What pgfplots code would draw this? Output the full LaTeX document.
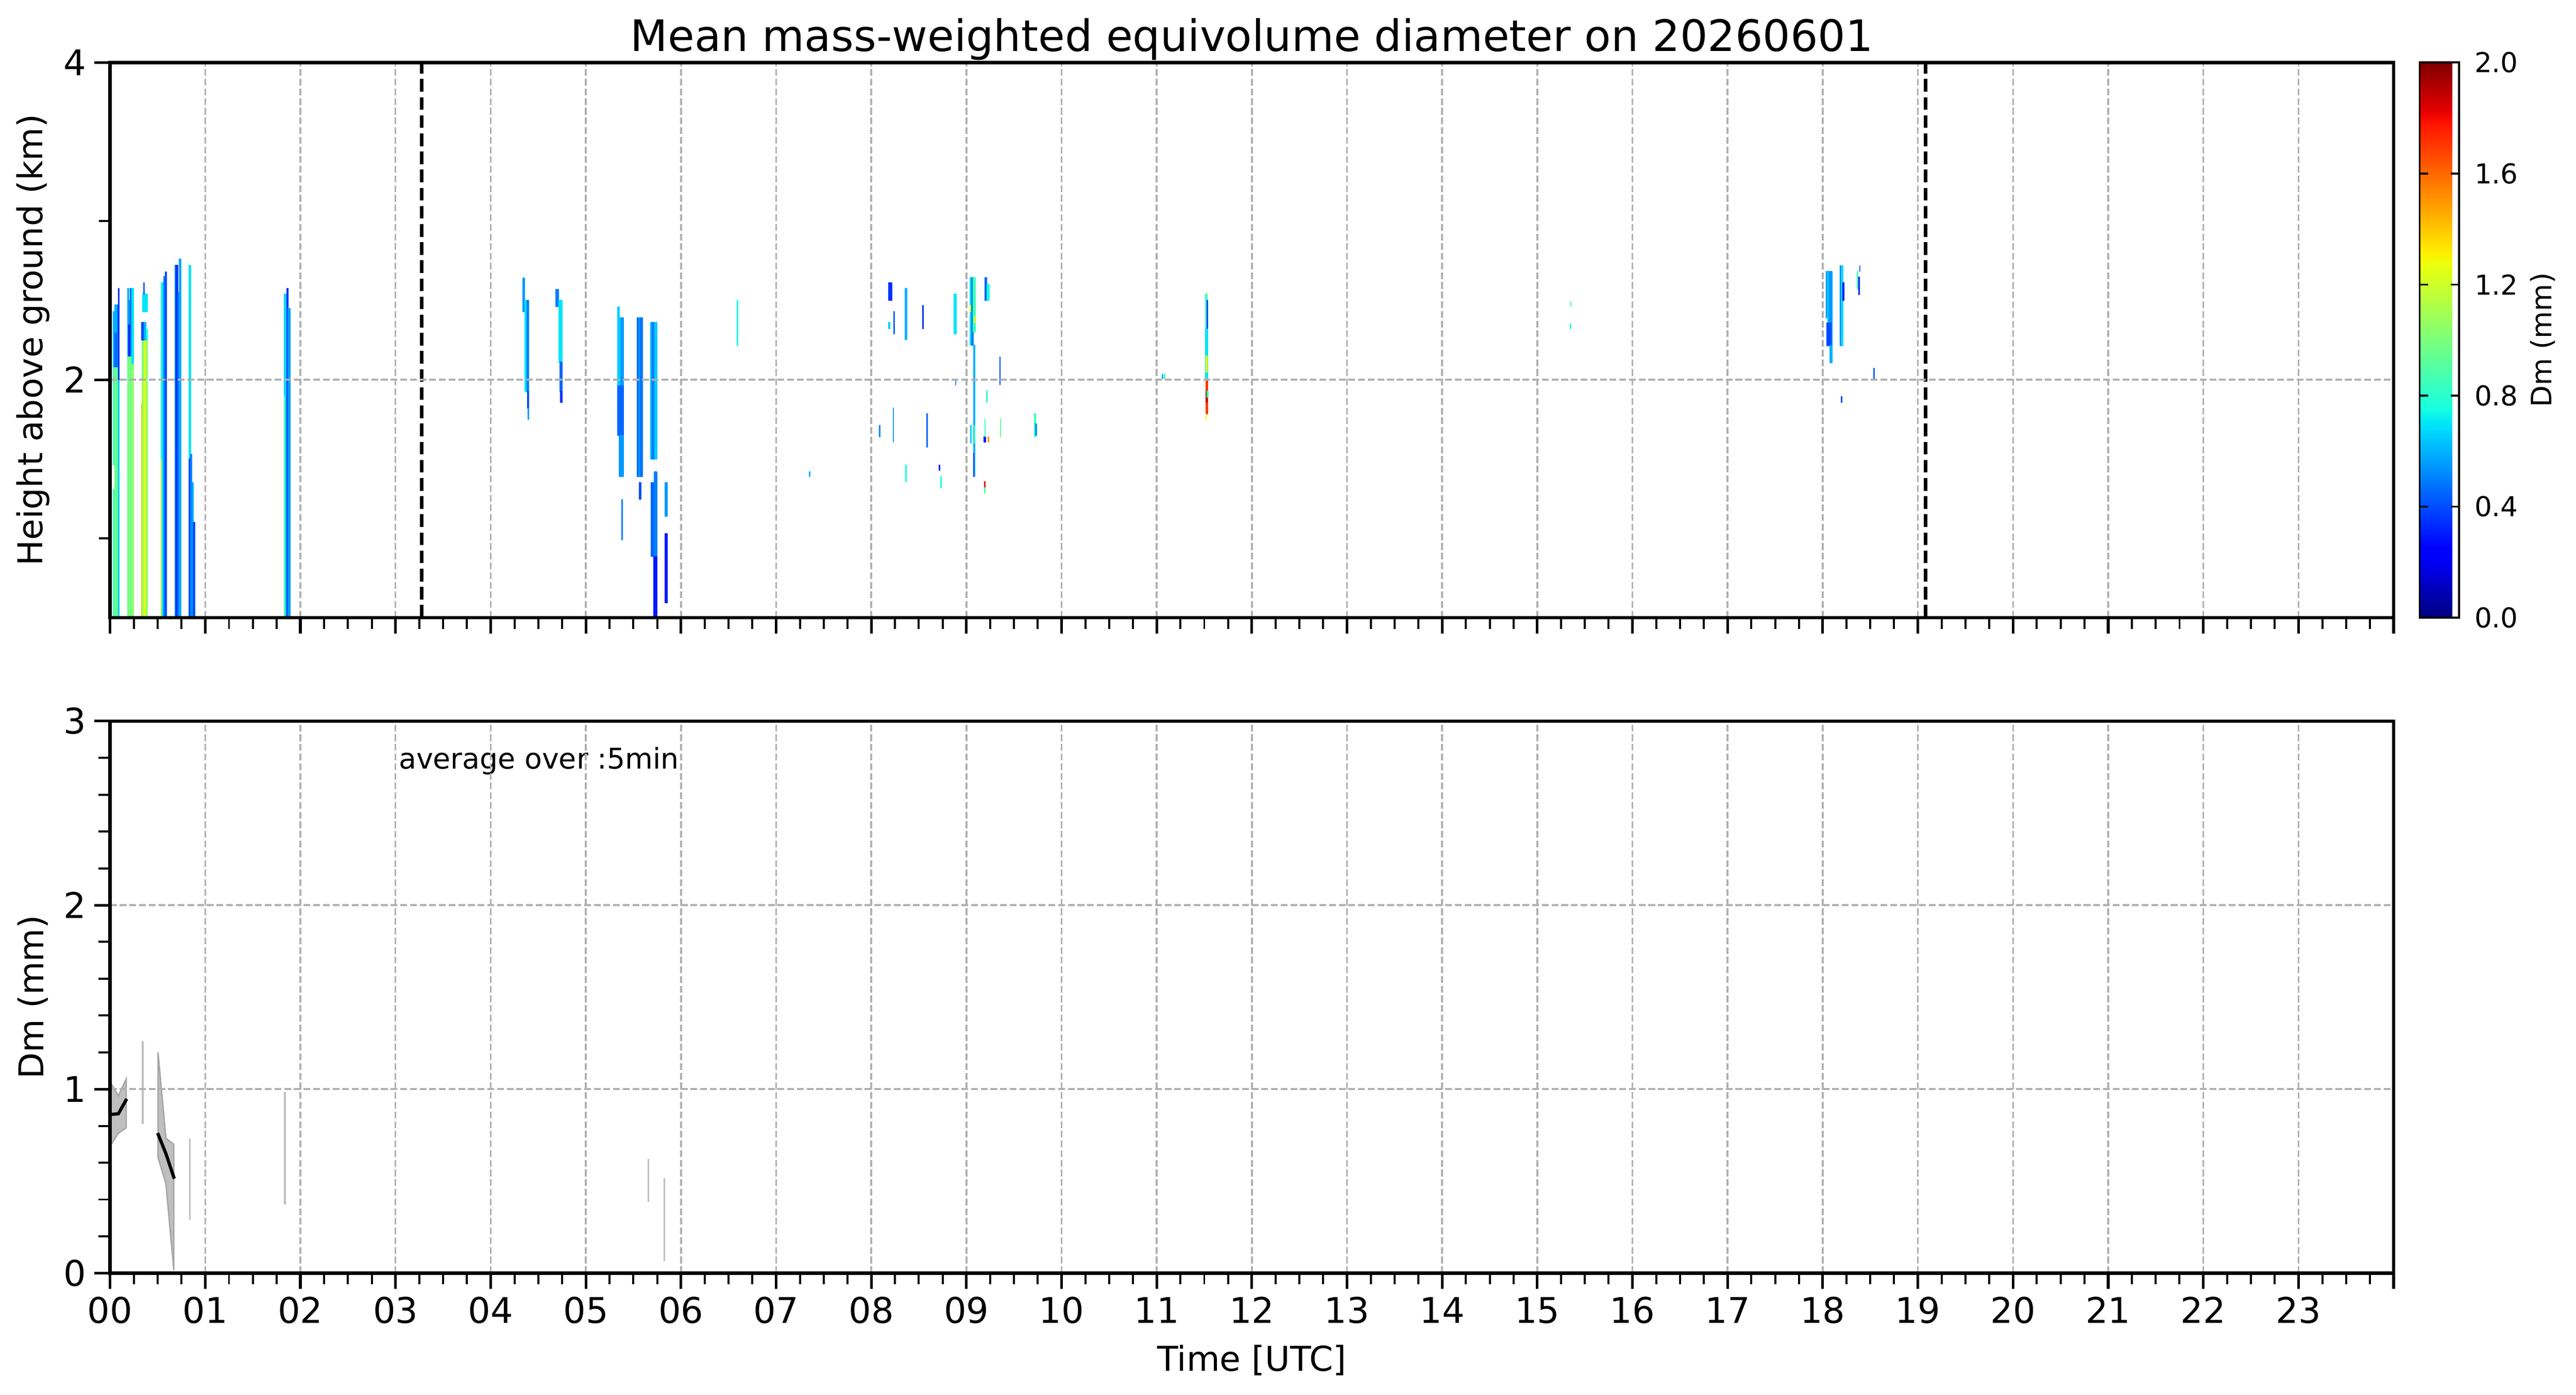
\documentclass[border=0pt]{standalone}
\usepackage{fontspec}
\setmainfont{DejaVu Sans}
\usepackage{pgfplots}
\usepgfplotslibrary{patchplots}
\pgfplotsset{compat=1.18}
\pgfplotsset{
  colormap={mpljet}{rgb(0pt)=(0,0,0.5) rgb(110pt)=(0,0,1) rgb(125pt)=(0,0,1) rgb(340pt)=(0,0.86,1) rgb(350pt)=(0,0.9,0.968) rgb(375pt)=(0.081,1,0.887) rgb(640pt)=(0.935,1,0.032) rgb(650pt)=(0.968,0.963,0) rgb(660pt)=(1,0.926,0) rgb(890pt)=(1,0.074,0) rgb(910pt)=(0.909,0,0) rgb(1000pt)=(0.5,0,0)},
  myax/.style={
    scale only axis, width=1000.8pt,
    xmin=0, xmax=24,
    xtick={0,...,24}, minor x tick num=3,
    tick align=outside, xtick pos=left, ytick pos=left,
    major tick length=7pt, minor tick length=5pt,
    major tick style={black, line width=1.15pt},
    minor tick style={black, line width=0.9pt},
    axis line style={line width=1.5pt},
    grid=major,
    major grid style={dash pattern=on 2.96pt off 1.28pt, line width=0.8pt, color=black!31},
    axis on top,
    ticklabel style={font=\fontsize{15.5}{15.5}\selectfont},
    /pgf/number format/assume math mode=true,
    label style={font=\fontsize{15}{15}\selectfont},
    every axis y label/.style={at={(axis description cs:-0.0338,0.5)}, anchor=center, rotate=90, font=\fontsize{15}{15}\selectfont},
  },
}
\begin{document}
\begin{tikzpicture}
\useasboundingbox (0pt,0pt) rectangle (1128.96pt,-611.28pt);
% ---------------- top panel ----------------
\begin{axis}[myax,
  at={(48.24pt,-27.36pt)}, anchor=north west, height=243.36pt,
  ymin=0.5, ymax=4, ytick={2,4}, minor ytick={1,3},
  xticklabels={},
  ylabel={Height above ground (km)},
  title={Mean mass-weighted equivolume diameter on 20260601},
  title style={at={(axis description cs:0.5,1)}, anchor=base, yshift=-1pt, font=\fontsize{19}{19}\selectfont},
  colormap name=mpljet, point meta min=0, point meta max=2,
  colorbar,
  colorbar style={
    at={(parent axis.north east)}, anchor=north west, xshift=2.9pt,
    scale only axis, width=17.28pt, height=243.36pt,
    ytick={0,0.4,0.8,1.2,1.6,2},
    yticklabel style={xshift=3.2pt, font=\fontsize{12}{12}\selectfont, /pgf/number format/.cd, fixed, fixed zerofill, precision=1},
    /pgf/number format/assume math mode=true,
    ylabel={Dm (mm)},
    every axis y label/.style={at={(axis description cs:3.125,0.5)}, anchor=center, rotate=90, font=\fontsize{12.3}{12.3}\selectfont},
    major tick length=3.6pt, major tick style={line width=0.8pt, black},
    axis line style={line width=0.8pt},
  },
]
\addplot[patch, patch type=rectangle, shader=flat, point meta=explicit] table[row sep=\\, meta index=2] {
x y c\\
0.034 0.5 0.85\\ 0.050 0.5 0.85\\ 0.050 1.31 0.85\\ 0.034 1.31 0.85\\
0.034 1.46 0.85\\ 0.050 1.46 0.85\\ 0.050 2.08 0.85\\ 0.034 2.08 0.85\\
0.034 2.08 0.6\\ 0.050 2.08 0.6\\ 0.050 2.43 0.6\\ 0.034 2.43 0.6\\
0.050 0.5 0.95\\ 0.075 0.5 0.95\\ 0.075 2.08 0.95\\ 0.050 2.08 0.95\\
0.050 2.08 0.45\\ 0.075 2.08 0.45\\ 0.075 2.30 0.45\\ 0.050 2.30 0.45\\
0.050 2.30 0.6\\ 0.075 2.30 0.6\\ 0.075 2.47 0.6\\ 0.050 2.47 0.6\\
0.075 0.5 0.9\\ 0.090 0.5 0.9\\ 0.090 2.08 0.9\\ 0.075 2.08 0.9\\
0.075 2.08 0.5\\ 0.090 2.08 0.5\\ 0.090 2.47 0.5\\ 0.075 2.47 0.5\\
0.090 0.5 0.65\\ 0.096 0.5 0.65\\ 0.096 2.00 0.65\\ 0.090 2.00 0.65\\
0.090 2.00 0.35\\ 0.096 2.00 0.35\\ 0.096 2.575 0.35\\ 0.090 2.575 0.35\\
0.183 0.5 0.95\\ 0.198 0.5 0.95\\ 0.198 2.15 0.95\\ 0.183 2.15 0.95\\
0.183 2.15 0.6\\ 0.198 2.15 0.6\\ 0.198 2.575 0.6\\ 0.183 2.575 0.6\\
0.198 0.5 1.0\\ 0.215 0.5 1.0\\ 0.215 2.15 1.0\\ 0.198 2.15 1.0\\
0.198 2.15 0.3\\ 0.215 2.15 0.3\\ 0.215 2.35 0.3\\ 0.198 2.35 0.3\\
0.198 2.35 0.55\\ 0.215 2.35 0.55\\ 0.215 2.50 0.55\\ 0.198 2.50 0.55\\
0.215 0.5 0.95\\ 0.230 0.5 0.95\\ 0.230 2.15 0.95\\ 0.215 2.15 0.95\\
0.215 2.15 0.45\\ 0.230 2.15 0.45\\ 0.230 2.575 0.45\\ 0.215 2.575 0.45\\
0.230 0.5 1.05\\ 0.245 0.5 1.05\\ 0.245 2.10 1.05\\ 0.230 2.10 1.05\\
0.230 2.10 0.7\\ 0.245 2.10 0.7\\ 0.245 2.575 0.7\\ 0.230 2.575 0.7\\
0.332 0.5 1.45\\ 0.338 0.5 1.45\\ 0.338 1.85 1.45\\ 0.332 1.85 1.45\\
0.338 0.5 1.1\\ 0.360 0.5 1.1\\ 0.360 2.00 1.1\\ 0.338 2.00 1.1\\
0.338 2.00 1.0\\ 0.360 2.00 1.0\\ 0.360 2.25 1.0\\ 0.338 2.25 1.0\\
0.332 2.25 0.4\\ 0.360 2.25 0.4\\ 0.360 2.36 0.4\\ 0.332 2.36 0.4\\
0.360 0.5 1.25\\ 0.378 0.5 1.25\\ 0.378 2.25 1.25\\ 0.360 2.25 1.25\\
0.360 2.25 0.6\\ 0.378 2.25 0.6\\ 0.378 2.36 0.6\\ 0.360 2.36 0.6\\
0.378 0.5 1.05\\ 0.392 0.5 1.05\\ 0.392 2.25 1.05\\ 0.378 2.25 1.05\\
0.378 2.25 0.75\\ 0.392 2.25 0.75\\ 0.392 2.32 0.75\\ 0.378 2.32 0.75\\
0.345 2.43 0.7\\ 0.392 2.43 0.7\\ 0.392 2.54 0.7\\ 0.345 2.54 0.7\\
0.352 2.54 0.45\\ 0.360 2.54 0.45\\ 0.360 2.61 0.45\\ 0.352 2.61 0.45\\
0.538 0.5 1.15\\ 0.550 0.5 1.15\\ 0.550 1.50 1.15\\ 0.538 1.50 1.15\\
0.538 1.50 0.8\\ 0.550 1.50 0.8\\ 0.550 2.61 0.8\\ 0.538 2.61 0.8\\
0.550 0.5 0.7\\ 0.565 0.5 0.7\\ 0.565 2.61 0.7\\ 0.550 2.61 0.7\\
0.565 0.5 0.5\\ 0.580 0.5 0.5\\ 0.580 2.65 0.5\\ 0.565 2.65 0.5\\
0.580 0.5 0.4\\ 0.593 0.5 0.4\\ 0.593 2.68 0.4\\ 0.580 2.68 0.4\\
0.682 0.5 0.5\\ 0.695 0.5 0.5\\ 0.695 2.72 0.5\\ 0.682 2.72 0.5\\
0.695 0.5 0.35\\ 0.710 0.5 0.35\\ 0.710 2.72 0.35\\ 0.695 2.72 0.35\\
0.710 0.5 0.45\\ 0.725 0.5 0.45\\ 0.725 2.55 0.45\\ 0.710 2.55 0.45\\
0.725 0.5 0.58\\ 0.745 0.5 0.58\\ 0.745 2.76 0.58\\ 0.725 2.76 0.58\\
0.830 1.50 0.7\\ 0.845 1.50 0.7\\ 0.845 2.72 0.7\\ 0.830 2.72 0.7\\
0.830 0.5 0.4\\ 0.845 0.5 0.4\\ 0.845 1.50 0.4\\ 0.830 1.50 0.4\\
0.845 0.5 0.5\\ 0.860 0.5 0.5\\ 0.860 1.53 0.5\\ 0.845 1.53 0.5\\
0.860 0.5 0.58\\ 0.875 0.5 0.58\\ 0.875 1.35 0.58\\ 0.860 1.35 0.58\\
0.875 0.5 0.4\\ 0.890 0.5 0.4\\ 0.890 1.10 0.4\\ 0.875 1.10 0.4\\
1.831 0.5 1.0\\ 1.843 0.5 1.0\\ 1.843 1.90 1.0\\ 1.831 1.90 1.0\\
1.831 1.90 0.65\\ 1.843 1.90 0.65\\ 1.843 2.54 0.65\\ 1.831 2.54 0.65\\
1.843 0.5 0.68\\ 1.858 0.5 0.68\\ 1.858 2.54 0.68\\ 1.843 2.54 0.68\\
1.858 0.5 0.35\\ 1.872 0.5 0.35\\ 1.872 2.575 0.35\\ 1.858 2.575 0.35\\
1.872 0.5 0.55\\ 1.891 0.5 0.55\\ 1.891 2.45 0.55\\ 1.872 2.45 0.55\\
4.341 2.43 0.55\\ 4.357 2.43 0.55\\ 4.357 2.64 0.55\\ 4.341 2.64 0.55\\
4.362 1.925 0.7\\ 4.380 1.925 0.7\\ 4.380 2.50 0.7\\ 4.362 2.50 0.7\\
4.380 1.925 0.5\\ 4.397 1.925 0.5\\ 4.397 2.50 0.5\\ 4.380 2.50 0.5\\
4.385 1.82 0.4\\ 4.397 1.82 0.4\\ 4.397 1.925 0.4\\ 4.385 1.925 0.4\\
4.392 1.75 0.55\\ 4.397 1.75 0.55\\ 4.397 1.82 0.55\\ 4.392 1.82 0.55\\
4.687 2.46 0.5\\ 4.715 2.46 0.5\\ 4.715 2.57 0.5\\ 4.687 2.57 0.5\\
4.715 2.11 0.7\\ 4.749 2.11 0.7\\ 4.749 2.50 0.7\\ 4.715 2.50 0.7\\
4.730 1.925 0.45\\ 4.749 1.925 0.45\\ 4.749 2.11 0.45\\ 4.730 2.11 0.45\\
4.735 1.856 0.35\\ 4.749 1.856 0.35\\ 4.749 1.925 0.35\\ 4.735 1.925 0.35\\
5.336 2.39 0.65\\ 5.352 2.39 0.65\\ 5.352 2.46 0.65\\ 5.336 2.46 0.65\\
5.336 1.963 0.65\\ 5.365 1.963 0.65\\ 5.365 2.39 0.65\\ 5.336 2.39 0.65\\
5.365 1.963 0.55\\ 5.394 1.963 0.55\\ 5.394 2.39 0.55\\ 5.365 2.39 0.55\\
5.336 1.65 0.45\\ 5.394 1.65 0.45\\ 5.394 1.963 0.45\\ 5.336 1.963 0.45\\
5.352 1.39 0.55\\ 5.394 1.39 0.55\\ 5.394 1.65 0.55\\ 5.352 1.65 0.55\\
5.380 0.99 0.5\\ 5.386 0.99 0.5\\ 5.386 1.245 0.5\\ 5.380 1.245 0.5\\
5.538 1.39 0.45\\ 5.556 1.39 0.45\\ 5.556 2.39 0.45\\ 5.538 2.39 0.45\\
5.556 1.39 0.55\\ 5.575 1.39 0.55\\ 5.575 2.39 0.55\\ 5.556 2.39 0.55\\
5.575 1.39 0.48\\ 5.596 1.39 0.48\\ 5.596 2.39 0.48\\ 5.575 2.39 0.48\\
5.560 1.245 0.4\\ 5.580 1.245 0.4\\ 5.580 1.35 0.4\\ 5.560 1.35 0.4\\
5.684 1.50 0.6\\ 5.700 1.50 0.6\\ 5.700 2.36 0.6\\ 5.684 2.36 0.6\\
5.700 1.50 0.5\\ 5.725 1.50 0.5\\ 5.725 2.36 0.5\\ 5.700 2.36 0.5\\
5.725 1.50 0.65\\ 5.747 1.50 0.65\\ 5.747 2.36 0.65\\ 5.725 2.36 0.65\\
5.689 0.885 0.45\\ 5.720 0.885 0.45\\ 5.720 1.35 0.45\\ 5.689 1.35 0.45\\
5.720 0.885 0.5\\ 5.747 0.885 0.5\\ 5.747 1.42 0.5\\ 5.720 1.42 0.5\\
5.712 0.5 0.3\\ 5.747 0.5 0.3\\ 5.747 0.885 0.3\\ 5.712 0.885 0.3\\
5.835 1.14 0.55\\ 5.856 1.14 0.55\\ 5.856 1.35 0.55\\ 5.835 1.35 0.55\\
5.835 0.595 0.3\\ 5.856 0.595 0.3\\ 5.856 1.03 0.3\\ 5.835 1.03 0.3\\
6.589 2.215 0.75\\ 6.595 2.215 0.75\\ 6.595 2.50 0.75\\ 6.589 2.50 0.75\\
7.348 1.39 0.6\\ 7.355 1.39 0.6\\ 7.355 1.42 0.6\\ 7.348 1.42 0.6\\
8.185 2.50 0.35\\ 8.216 2.50 0.35\\ 8.216 2.61 0.35\\ 8.185 2.61 0.35\\
8.185 2.32 0.65\\ 8.195 2.32 0.65\\ 8.195 2.36 0.65\\ 8.185 2.36 0.65\\
8.236 2.29 0.45\\ 8.246 2.29 0.45\\ 8.246 2.43 0.45\\ 8.236 2.43 0.45\\
8.355 2.252 0.6\\ 8.371 2.252 0.6\\ 8.371 2.574 0.6\\ 8.355 2.574 0.6\\
8.540 2.322 0.35\\ 8.546 2.322 0.35\\ 8.546 2.467 0.35\\ 8.540 2.467 0.35\\
8.869 2.289 0.7\\ 8.892 2.289 0.7\\ 8.892 2.539 0.7\\ 8.869 2.539 0.7\\
8.886 1.967 0.5\\ 8.890 1.967 0.5\\ 8.890 2.00 0.5\\ 8.886 2.00 0.5\\
9.038 2.219 0.7\\ 9.054 2.219 0.7\\ 9.054 2.644 0.7\\ 9.038 2.644 0.7\\
9.040 2.43 1.2\\ 9.050 2.43 1.2\\ 9.050 2.467 1.2\\ 9.040 2.467 1.2\\
9.054 2.219 0.5\\ 9.070 2.219 0.5\\ 9.070 2.644 0.5\\ 9.054 2.644 0.5\\
9.070 2.30 0.85\\ 9.096 2.30 0.85\\ 9.096 2.644 0.85\\ 9.070 2.644 0.85\\
9.078 1.391 0.6\\ 9.087 1.391 0.6\\ 9.087 2.219 0.6\\ 9.078 2.219 0.6\\
9.080 2.36 1.3\\ 9.090 2.36 1.3\\ 9.090 2.40 1.3\\ 9.080 2.40 1.3\\
9.193 2.50 0.45\\ 9.215 2.50 0.45\\ 9.215 2.644 0.45\\ 9.193 2.644 0.45\\
9.215 2.50 0.75\\ 9.240 2.50 0.75\\ 9.240 2.60 0.75\\ 9.215 2.60 0.75\\
9.351 1.967 0.4\\ 9.355 1.967 0.4\\ 9.355 2.144 0.4\\ 9.351 2.144 0.4\\
9.212 1.858 0.8\\ 9.216 1.858 0.8\\ 9.216 1.93 0.8\\ 9.212 1.93 0.8\\
8.086 1.641 0.5\\ 8.091 1.641 0.5\\ 8.091 1.713 0.5\\ 8.086 1.713 0.5\\
8.229 1.608 0.55\\ 8.233 1.608 0.55\\ 8.233 1.822 0.55\\ 8.229 1.822 0.55\\
8.586 1.574 0.45\\ 8.590 1.574 0.45\\ 8.590 1.786 0.45\\ 8.586 1.786 0.45\\
9.043 1.602 0.65\\ 9.050 1.602 0.65\\ 9.050 1.713 0.65\\ 9.043 1.713 0.65\\
9.080 1.602 0.8\\ 9.089 1.602 0.8\\ 9.089 1.713 0.8\\ 9.080 1.713 0.8\\
9.187 1.608 0.3\\ 9.200 1.608 0.3\\ 9.200 1.641 0.3\\ 9.187 1.641 0.3\\
9.228 1.608 1.5\\ 9.235 1.608 1.5\\ 9.235 1.641 1.5\\ 9.228 1.641 1.5\\
9.193 1.641 0.85\\ 9.197 1.641 0.85\\ 9.197 1.752 0.85\\ 9.193 1.752 0.85\\
9.356 1.641 0.95\\ 9.360 1.641 0.95\\ 9.360 1.752 0.95\\ 9.356 1.752 0.95\\
9.715 1.641 0.85\\ 9.725 1.641 0.85\\ 9.725 1.786 0.85\\ 9.715 1.786 0.85\\
9.725 1.65 0.55\\ 9.738 1.65 0.55\\ 9.738 1.72 0.55\\ 9.725 1.72 0.55\\
8.364 1.358 0.75\\ 8.369 1.358 0.75\\ 8.369 1.463 0.75\\ 8.364 1.463 0.75\\
8.714 1.43 0.3\\ 8.719 1.43 0.3\\ 8.719 1.463 0.3\\ 8.714 1.463 0.3\\
8.730 1.319 0.75\\ 8.734 1.319 0.75\\ 8.734 1.391 0.75\\ 8.730 1.391 0.75\\
9.076 1.391 0.35\\ 9.080 1.391 0.35\\ 9.080 1.536 0.35\\ 9.076 1.536 0.35\\
9.189 1.32 1.8\\ 9.195 1.32 1.8\\ 9.195 1.358 1.8\\ 9.189 1.358 1.8\\
9.189 1.286 0.9\\ 9.195 1.286 0.9\\ 9.195 1.32 0.9\\ 9.189 1.32 0.9\\
11.082 2.008 0.85\\ 11.086 2.008 0.85\\ 11.086 2.036 0.85\\ 11.082 2.036 0.85\\
11.060 2.005 0.6\\ 11.064 2.005 0.6\\ 11.064 2.034 0.6\\ 11.060 2.034 0.6\\
11.515 2.32 0.85\\ 11.528 2.32 0.85\\ 11.528 2.54 0.85\\ 11.515 2.54 0.85\\
11.528 2.32 0.4\\ 11.537 2.32 0.4\\ 11.537 2.50 0.4\\ 11.528 2.50 0.4\\
11.515 2.00 0.7\\ 11.537 2.00 0.7\\ 11.537 2.32 0.7\\ 11.515 2.32 0.7\\
11.520 2.05 1.3\\ 11.530 2.05 1.3\\ 11.530 2.15 1.3\\ 11.520 2.15 1.3\\
11.518 1.784 1.7\\ 11.537 1.784 1.7\\ 11.537 2.00 1.7\\ 11.518 2.00 1.7\\
11.520 1.86 1.9\\ 11.530 1.86 1.9\\ 11.530 1.93 1.9\\ 11.520 1.93 1.9\\
11.518 1.747 1.3\\ 11.522 1.747 1.3\\ 11.522 1.784 1.3\\ 11.518 1.784 1.3\\
11.530 1.89 0.85\\ 11.540 1.89 0.85\\ 11.540 1.93 0.85\\ 11.530 1.93 0.85\\
15.350 2.46 0.85\\ 15.355 2.46 0.85\\ 15.355 2.49 0.85\\ 15.350 2.49 0.85\\
15.349 2.32 0.85\\ 15.355 2.32 0.85\\ 15.355 2.35 0.85\\ 15.349 2.35 0.85\\
18.035 2.389 0.4\\ 18.045 2.389 0.4\\ 18.045 2.681 0.4\\ 18.035 2.681 0.4\\
18.045 2.389 0.65\\ 18.056 2.389 0.65\\ 18.056 2.681 0.65\\ 18.045 2.681 0.65\\
18.056 2.359 0.62\\ 18.072 2.359 0.62\\ 18.072 2.681 0.62\\ 18.056 2.681 0.62\\
18.072 2.214 0.55\\ 18.096 2.214 0.55\\ 18.096 2.681 0.55\\ 18.072 2.681 0.55\\
18.045 2.214 0.4\\ 18.085 2.214 0.4\\ 18.085 2.359 0.4\\ 18.045 2.359 0.4\\
18.078 2.106 0.6\\ 18.096 2.106 0.6\\ 18.096 2.214 0.6\\ 18.078 2.214 0.6\\
18.183 2.214 0.48\\ 18.197 2.214 0.48\\ 18.197 2.717 0.48\\ 18.183 2.717 0.48\\
18.197 2.214 0.68\\ 18.211 2.214 0.68\\ 18.211 2.717 0.68\\ 18.197 2.717 0.68\\
18.211 2.50 0.3\\ 18.225 2.50 0.3\\ 18.225 2.61 0.3\\ 18.211 2.61 0.3\\
18.364 2.573 0.85\\ 18.371 2.573 0.85\\ 18.371 2.681 0.85\\ 18.364 2.681 0.85\\
18.378 2.535 0.3\\ 18.385 2.535 0.3\\ 18.385 2.648 0.3\\ 18.378 2.648 0.3\\
18.389 2.681 0.45\\ 18.392 2.681 0.45\\ 18.392 2.717 0.45\\ 18.389 2.717 0.45\\
18.535 2.006 0.45\\ 18.540 2.006 0.45\\ 18.540 2.071 0.45\\ 18.535 2.071 0.45\\
18.197 1.856 0.4\\ 18.203 1.856 0.4\\ 18.203 1.893 0.4\\ 18.197 1.893 0.4\\
};
\addplot[black, line width=1.5pt, dash pattern=on 5.55pt off 2.4pt] coordinates {(3.276,0.5) (3.276,4)};
\addplot[black, line width=1.5pt, dash pattern=on 5.55pt off 2.4pt] coordinates {(19.082,0.5) (19.082,4)};
\end{axis}
% ---------------- bottom panel ----------------
\begin{axis}[myax,
  at={(48.24pt,-316.08pt)}, anchor=north west, height=241.92pt,
  ymin=0, ymax=3, ytick={0,1,2,3}, minor y tick num=4,
  xticklabels={00,01,02,03,04,05,06,07,08,09,10,11,12,13,14,15,16,17,18,19,20,21,22,23,{}},
  xlabel={Time [UTC]},
  xlabel style={at={(axis description cs:0.5,-0.158)}, anchor=center},
  ylabel={Dm (mm)},
]
\addplot[fill=black!25, draw=black!35, line width=0.6pt] coordinates {(0,1.04) (0.087,0.964) (0.17,1.056) (0.17,0.79) (0.087,0.76) (0,0.69)} -- cycle;
\addplot[fill=black!25, draw=black!35, line width=0.6pt] coordinates {(0.504,1.20) (0.587,0.733) (0.670,0.70) (0.670,0.015) (0.587,0.486) (0.504,0.628)} -- cycle;
\addplot[black!25, line width=0.76pt] coordinates {(0.343,0.81) (0.343,1.26)};
\addplot[black!25, line width=0.76pt] coordinates {(0.839,0.289) (0.839,0.733)};
\addplot[black!25, line width=0.76pt] coordinates {(1.837,0.374) (1.837,0.985)};
\addplot[black!25, line width=0.76pt] coordinates {(5.657,0.386) (5.657,0.62)};
\addplot[black!25, line width=0.76pt] coordinates {(5.824,0.065) (5.824,0.515)};
\addplot[black, line width=1.4pt] coordinates {(0,0.862) (0.087,0.866) (0.175,0.947)};
\addplot[black, line width=1.4pt] coordinates {(0.50,0.761) (0.587,0.649) (0.675,0.513)};
\node[anchor=base west, inner sep=0pt, font=\fontsize{12.5}{12.5}\selectfont] at (axis cs:3.03,2.74) {average over :5min};
\end{axis}
\end{tikzpicture}
\end{document}
